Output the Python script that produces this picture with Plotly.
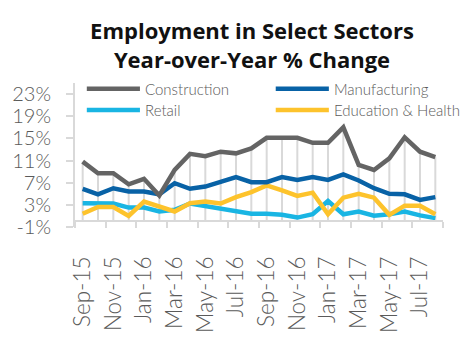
import plotly.graph_objects as go

# Monthly year-over-year employment change (%) by sector, Sep-15 .. Aug-17
months = ["Sep-15", "Oct-15", "Nov-15", "Dec-15", "Jan-16", "Feb-16", "Mar-16", "Apr-16",
          "May-16", "Jun-16", "Jul-16", "Aug-16", "Sep-16", "Oct-16", "Nov-16", "Dec-16",
          "Jan-17", "Feb-17", "Mar-17", "Apr-17", "May-17", "Jun-17", "Jul-17", "Aug-17"]
construction = [10.8, 8.7, 8.7, 6.7, 7.7, 4.7, 9.3, 12.2, 11.8, 12.6, 12.3, 13.2,
                15.1, 15.1, 15.1, 14.2, 14.2, 17.0, 10.2, 9.3, 11.4, 15.2, 12.6, 11.6]
manufacturing = [5.9, 4.9, 6.0, 5.4, 5.4, 4.9, 6.9, 5.9, 6.3, 7.1, 8.0, 7.1,
                 7.1, 8.0, 7.5, 8.0, 7.5, 8.5, 7.4, 6.0, 5.0, 4.9, 3.9, 4.4]
retail = [3.3, 3.3, 3.25, 2.5, 2.5, 1.8, 2.1, 3.25, 2.8, 2.4, 1.8, 1.4,
          1.4, 1.2, 0.7, 1.3, 3.7, 1.3, 1.8, 1.05, 1.3, 1.8, 1.1, 0.6]
education = [1.4, 2.6, 2.6, 1.0, 3.6, 2.7, 1.8, 3.3, 3.6, 3.25, 4.4, 5.3,
             6.5, 5.6, 4.6, 5.2, 1.3, 4.3, 5.0, 4.3, 1.2, 2.85, 2.85, 1.3]

series_names = ["Construction", "Manufacturing", "Retail", "Education & Health"]
y_ticks = [-1, 3, 7, 11, 15, 19, 23]

colors = {"Construction": "#646464", "Manufacturing": "#0862a6",
          "Retail": "#19b5e3", "Education & Health": "#fdc32c"}
series = {"Construction": construction, "Manufacturing": manufacturing,
          "Retail": retail, "Education & Health": education}

W, H = 471, 345
ML, MR, MT, MB = 69, 28, 82.6, 79.6
Y_MIN, Y_MAX = -1, 25
TITLE_FONT = "Open Sans"
FONT = "Lato"
GRAY_TXT = "#5a5a5a"
AXIS_GRAY = "#d9d9d9"

x_idx = list(range(len(months)))

fig = go.Figure()

# drop lines from the construction series down to the 0% axis
dx, dy = [], []
for i, v in zip(x_idx, construction):
    dx += [i, i, None]
    dy += [0, v, None]
fig.add_trace(go.Scatter(x=dx, y=dy, mode="lines", hoverinfo="skip",
                         line=dict(color=AXIS_GRAY, width=2), showlegend=False))

for name in ["Retail", "Education & Health", "Manufacturing", "Construction"]:
    fig.add_trace(go.Scatter(x=x_idx, y=series[name], mode="lines", name=name,
                             line=dict(color=colors[name], width=4.5),
                             showlegend=False))


def px_to_paper(px, py):
    return (px - ML) / (W - ML - MR), (H - MB - py) / (H - MT - MB)


# legend: two columns, two rows
legend_pos = {"Construction": (81, 90), "Manufacturing": (273, 90),
              "Retail": (81, 117), "Education & Health": (273, 117)}
for name in series_names:
    lx, ly = legend_pos[name]
    x0, yy = px_to_paper(lx, ly)
    x1, _ = px_to_paper(lx + 54, ly)
    fig.add_shape(type="line", xref="paper", yref="paper", x0=x0, x1=x1, y0=yy, y1=yy,
                  line=dict(color=colors[name], width=4.5))
    tx, _ = px_to_paper(lx + 57, ly)
    fig.add_annotation(xref="paper", yref="paper", x=tx, y=yy, text=name,
                       showarrow=False, xanchor="left", yanchor="middle",
                       font=dict(family=FONT, size=15, color=GRAY_TXT, weight=300))

zero_pos = (0 - Y_MIN) / (Y_MAX - Y_MIN)

fig.update_layout(
    width=W, height=H,
    margin=dict(l=ML, r=MR, t=MT, b=MB),
    paper_bgcolor="white", plot_bgcolor="white",
    title=dict(text="<b>Employment in Select Sectors<br>Year-over-Year % Change</b>",
               x=252 / W, xanchor="center", xref="container",
               y=1 - 39 / H, yanchor="top", yref="container",
               font=dict(family=TITLE_FONT, size=22, color="#111111")),
    xaxis=dict(range=[-0.5, len(months) - 0.5],
               tickmode="array", tickvals=x_idx[::2], ticktext=months[::2],
               tickangle=-90, ticks="", showgrid=False, zeroline=False,
               showline=True, linecolor=AXIS_GRAY, linewidth=2,
               anchor="free", position=zero_pos,
               ticklabelstandoff=25,
               tickfont=dict(family=FONT, size=22.5, color=GRAY_TXT, weight=300),
               minor=dict(tickmode="linear", tick0=-0.5, dtick=2, ticks="outside",
                          ticklen=6, tickwidth=2, tickcolor=AXIS_GRAY, showgrid=False)),
    yaxis=dict(range=[Y_MIN, Y_MAX], tickmode="array", tickvals=y_ticks,
               ticktext=[f"{v}%" for v in y_ticks],
               ticks="outside", ticklen=7, tickwidth=2, tickcolor=AXIS_GRAY,
               showline=True, linecolor=AXIS_GRAY, linewidth=2,
               showgrid=False, zeroline=False, ticklabelstandoff=11,
               tickfont=dict(family=FONT, size=20, color=GRAY_TXT, weight=300)),
)

fig.write_html("out.html")
